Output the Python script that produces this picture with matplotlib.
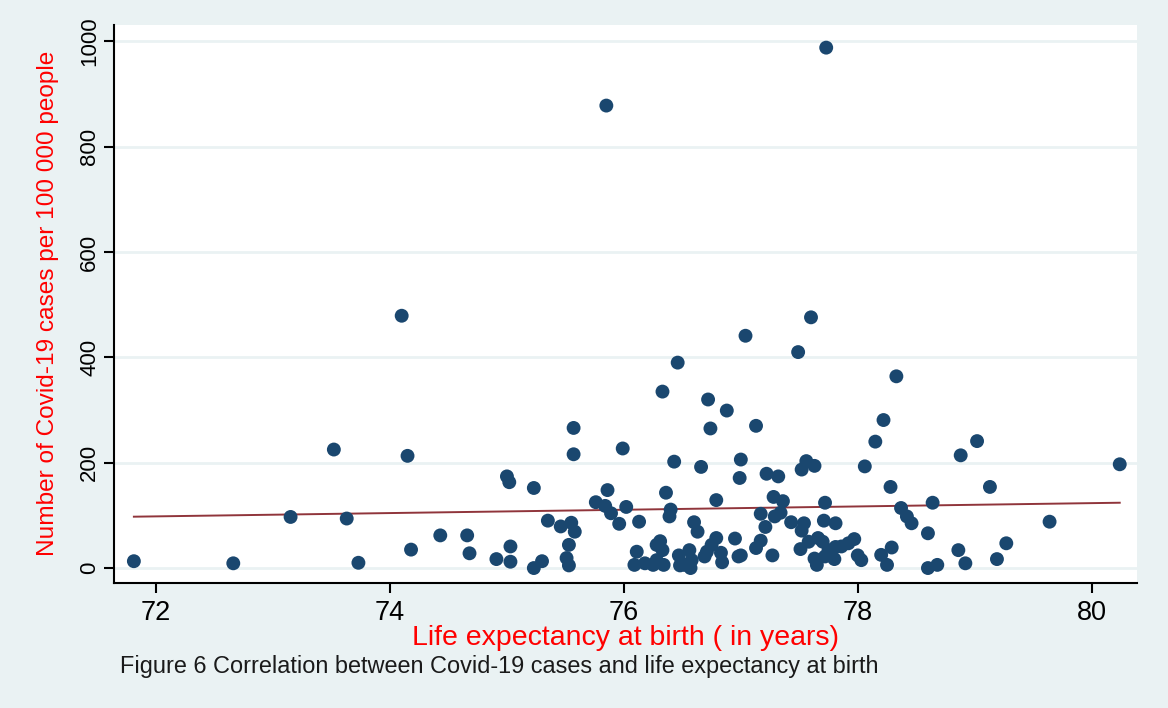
import matplotlib
matplotlib.use('Agg')
import matplotlib.pyplot as plt
import numpy as np

plt.rcParams['font.family'] = ['Liberation Sans', 'DejaVu Sans']

# Stata s2color look
BG     = "#EAF2F3"
NAVY   = "#1A476F"
MAROON = "#90353B"
RED    = "#FF0000"

# ── data ──────────────────────────────────────────────────────────────────
life_exp = [
    71.81, 72.66, 73.15, 73.52, 73.63, 73.73, 74.15, 74.18, 74.43, 74.66,
    74.68, 74.91, 74.10,
    75.03, 75.03, 75.00, 75.02, 75.23, 75.23, 75.30, 75.35, 75.46, 75.55,
    75.58, 75.53, 75.51, 75.53, 75.57, 75.57, 75.86, 75.76, 75.84, 75.89,
    75.96, 76.02, 75.99, 76.13, 76.11, 76.09, 76.18, 76.25, 76.34, 76.28,
    76.31, 76.33, 76.28, 76.33, 76.46, 76.36, 76.40, 76.39, 76.43, 76.47,
    76.48, 76.56, 76.58, 76.57, 76.52, 76.60, 76.63, 76.66, 76.72, 76.74,
    76.88, 76.79, 76.79, 76.75, 76.71, 76.69, 76.83, 76.84, 76.95, 76.98,
    77.00, 76.99, 77.04,
    77.49, 78.33, 77.13, 78.22, 78.15, 79.02, 78.88, 77.56, 77.52, 77.63,
    77.22, 77.32, 78.06, 78.28, 77.28, 77.36, 77.17, 77.29, 77.34, 77.21,
    77.00, 77.13, 77.17, 77.27, 77.43, 77.54, 77.52, 77.51, 77.58, 77.66,
    77.70, 77.63, 77.65, 77.72, 77.71, 77.81, 77.75, 77.81, 77.86, 77.80,
    77.72, 77.92, 77.97, 78.00, 78.03, 78.37, 78.42, 78.46, 78.20, 78.29,
    78.25, 78.64, 78.60, 78.60, 78.68, 78.86, 78.92,
    80.24, 79.13, 79.64, 79.27, 79.19,
    75.85, 77.73, 77.60,
]
cases = [
    13, 9, 97, 225, 94, 10, 213, 35, 62, 62,
    28, 17, 479,
    41, 12, 174, 163, 152, 0, 13, 90, 79, 86,
    69, 44, 19, 5, 266, 216, 148, 125, 118, 104,
    84, 116, 227, 88, 31, 6, 9, 6, 6, 44,
    51, 34, 15, 335, 390, 143, 111, 98, 202, 24,
    5, 34, 15, 0, 6, 87, 69, 192, 320, 265,
    299, 129, 57, 44, 31, 22, 29, 11, 56, 22,
    206, 171, 441,
    410, 364, 270, 281, 240, 241, 214, 203, 187, 194,
    179, 174, 193, 154, 135, 127, 103, 98, 105, 78,
    24, 38, 52, 24, 87, 85, 71, 36, 50, 57,
    50, 18, 6, 124, 90, 85, 34, 40, 41, 17,
    22, 47, 55, 24, 15, 114, 98, 85, 25, 39,
    6, 124, 66, 0, 6, 34, 9,
    197, 154, 88, 47, 17,
    878, 988, 476,
]

# linear fit line end points
fit_x = [71.81, 80.24]
fit_y = [97.5, 124]

x_ticks = [72, 74, 76, 78, 80]
y_ticks = [0, 200, 400, 600, 800, 1000]

# ── figure ────────────────────────────────────────────────────────────────
fig = plt.figure(figsize=(11.68, 7.08), dpi=100, facecolor=BG)
ax = fig.add_axes([0.0976, 0.1761, 0.8756, 0.7886])
ax.set_facecolor('white')

for yt in y_ticks:
    ax.axhline(yt, color=BG, lw=2, zorder=0)

ax.scatter(life_exp, cases, s=100, color=NAVY, edgecolors='none', zorder=3)
ax.plot(fit_x, fit_y, color=MAROON, lw=1.4, zorder=2)

ax.set_xlim(71.64, 80.385)
ax.set_ylim(-29, 1031)
ax.set_xticks(x_ticks)
ax.set_yticks(y_ticks)
ax.tick_params(axis='x', labelsize=19.5, length=7, width=1.5, pad=5)
ax.tick_params(axis='y', labelsize=16, length=7, width=1.5, pad=3)
for lab in ax.get_yticklabels():
    lab.set_rotation(90)
    lab.set_va('center')

for side in ['top', 'right']:
    ax.spines[side].set_visible(False)
for side in ['left', 'bottom']:
    ax.spines[side].set_linewidth(1.5)
    ax.spines[side].set_color('black')

fig.text(625 / 1168, 1 - 638 / 708, 'Life expectancy at birth ( in years)',
         color=RED, fontsize=20.5, ha='center', va='center')
fig.text(48 / 1168, 1 - 303 / 708, 'Number of Covid-19 cases per 100 000 people',
         color=RED, fontsize=17.6, ha='center', va='center', rotation=90)
fig.text(120 / 1168, 1 - 667 / 708,
         'Figure 6 Correlation between Covid-19 cases and life expectancy at birth',
         color='#1a1a1a', fontsize=16.9, ha='left', va='center')

plt.savefig('out.png', dpi=100, facecolor=BG)
